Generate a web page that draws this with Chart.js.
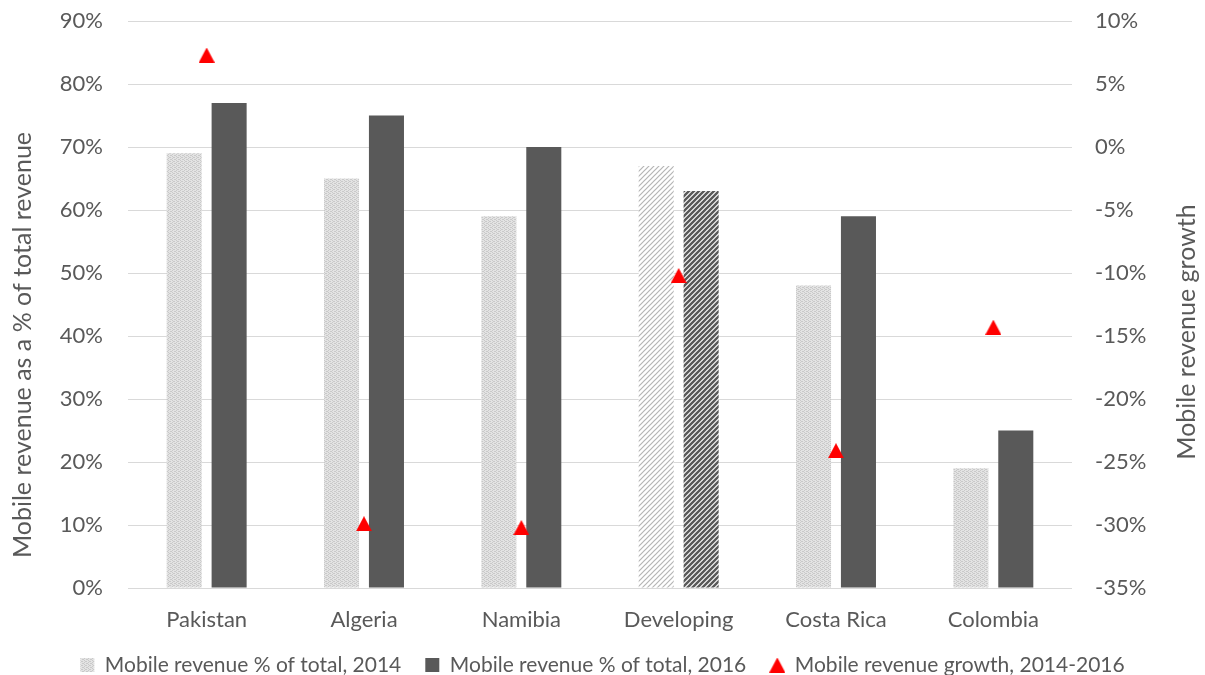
<!DOCTYPE html>
<html>
<head>
<meta charset="utf-8">
<script src="https://cdn.jsdelivr.net/npm/chart.js@4.4.1/dist/chart.umd.min.js"></script>
<style>
  html, body { margin: 0; padding: 0; background: #fff; }
  #wrap { width: 1205px; height: 675px; }
</style>
</head>
<body>
<div id="wrap"><canvas id="chart"></canvas></div>
<script>
// Data
const categories = ['Pakistan', 'Algeria', 'Namibia', 'Developing', 'Costa Rica', 'Colombia'];
const share2014 = [69, 65, 59, 67, 48, 19];
const share2016 = [77, 75, 70, 63, 59, 25];
const growth = [7.3, -29.9, -30.2, -10.2, -24.1, -14.3];
const seriesNames = [
    'Mobile revenue % of total, 2014',
    'Mobile revenue % of total, 2016',
    'Mobile revenue growth, 2014-2016',
];
const leftTitle = 'Mobile revenue as a % of total revenue';
const rightTitle = 'Mobile revenue growth';
const highlightIndex = 3; // "Developing" gets hatched bars

const TEXT = '#595959';
const GRID = '#d9d9d9';
const FONT = 'Lato, sans-serif';
const LEGEND_H = 35;
const LEGEND_SHIFT = -9.5;

function makeCanvas(w, h) {
    const c = document.createElement('canvas');
    c.width = w;
    c.height = h || w;
    return c;
}

// fine dotted fill like the light 2014 bars
function dotPattern() {
    const c = makeCanvas(4);
    const g = c.getContext('2d');
    g.fillStyle = '#e3e3e3';
    g.fillRect(0, 0, 4, 4);
    g.fillStyle = '#c9c9c9';
    [[0, 0], [2, 1], [0, 2], [2, 3], [1, 1], [3, 3]].forEach(([x, y]) => g.fillRect(x, y, 1, 1));
    return g.createPattern(c, 'repeat');
}

// diagonal hatch for the "Developing" bars
function hatchPattern(color, width, size) {
    const c = makeCanvas(size);
    const g = c.getContext('2d');
    g.fillStyle = '#ffffff';
    g.fillRect(0, 0, size, size);
    g.strokeStyle = color;
    g.lineWidth = width;
    g.beginPath();
    g.moveTo(-size, size * 2);
    g.lineTo(size * 2, -size);
    g.moveTo(-size, size);
    g.lineTo(size, -size);
    g.moveTo(0, size * 2);
    g.lineTo(size * 2, 0);
    g.stroke();
    return g.createPattern(c, 'repeat');
}

// triangle marker centred on its box (Excel style), not on its centroid
function triangleMarker(w, h, color) {
    const c = makeCanvas(w, h);
    const g = c.getContext('2d');
    g.fillStyle = color;
    g.beginPath();
    g.moveTo(w / 2, 0);
    g.lineTo(w, h);
    g.lineTo(0, h);
    g.closePath();
    g.fill();
    return c;
}

const lightDots = dotPattern();
const lightHatch = hatchPattern('#b5b5b5', 1.2, 5);
const darkHatch = hatchPattern('#595959', 2.4, 5);
const redTriangle = triangleMarker(16, 15, '#ff0000');

const colors2014 = categories.map((_, i) => i === highlightIndex ? lightHatch : lightDots);
const colors2016 = categories.map((_, i) => i === highlightIndex ? darkHatch : '#595959');

const pct = (v) => `${v}%`;

// fixed box sizes so the plot area lands where the reference has it
function fixY(width) {
    return (s) => {
        s.width = width;
        s.paddingTop = 0;
        s.paddingBottom = 0;
    };
}

// legend height is not configurable, so pin it after its own fit,
// then move its box up a little (it clips to its own box when drawn)
const legendPlacement = {
    id: 'legendPlacement',
    afterInit(chart) {
        const lg = chart.legend;
        if (!lg) return;
        const fit = lg.fit.bind(lg);
        lg.fit = function () {
            fit();
            this.height = LEGEND_H;
        };
    },
    afterLayout(chart) {
        const lg = chart.legend;
        if (!lg) return;
        lg.top += LEGEND_SHIFT;
        lg.height -= LEGEND_SHIFT;
        lg.bottom = lg.top + lg.height;
    },
};

// Excel-style axis titles: both read bottom-to-top, centred a bit below the plot middle
const axisTitles = {
    id: 'axisTitles',
    afterDraw(chart) {
        const { ctx } = chart;
        const put = (text, x, y) => {
            ctx.save();
            ctx.translate(x, y);
            ctx.rotate(-Math.PI / 2);
            ctx.font = `25px ${FONT}`;
            ctx.fillStyle = TEXT;
            ctx.textAlign = 'center';
            ctx.textBaseline = 'middle';
            ctx.fillText(text, 0, 0);
            ctx.restore();
        };
        put(leftTitle, 23, 345);
        put(rightTitle, 1187, 332);
    },
};

new Chart(document.getElementById('chart'), {
    data: {
        labels: categories,
        datasets: [
            {
                type: 'bar',
                label: seriesNames[0],
                data: share2014,
                backgroundColor: colors2014,
                borderWidth: 0,
                categoryPercentage: 0.571,
                barPercentage: 0.78,
                yAxisID: 'y',
                pointStyle: 'rect',
                order: 2,
            },
            {
                type: 'bar',
                label: seriesNames[1],
                data: share2016,
                backgroundColor: colors2016,
                borderWidth: 0,
                categoryPercentage: 0.571,
                barPercentage: 0.78,
                yAxisID: 'y',
                pointStyle: 'rect',
                order: 2,
            },
            {
                type: 'line',
                label: seriesNames[2],
                data: growth,
                showLine: false,
                yAxisID: 'y2',
                pointStyle: redTriangle,
                pointRadius: 8,
                pointBorderWidth: 0,
                backgroundColor: '#ff0000',
                borderColor: '#ff0000',
                order: 1,
            },
        ],
    },
    plugins: [legendPlacement, axisTitles],
    options: {
        responsive: true,
        maintainAspectRatio: false,
        animation: false,
        layout: { padding: { top: 21, bottom: 0, left: 0, right: 0 } },
        plugins: {
            tooltip: { enabled: false },
            legend: {
                position: 'bottom',
                labels: {
                    color: TEXT,
                    font: { family: FONT, size: 21 },
                    usePointStyle: true,
                    boxHeight: 14,
                    boxWidth: 14,
                    padding: 24,
                    sort: (a, b) => a.datasetIndex - b.datasetIndex,
                },
            },
        },
        scales: {
            x: {
                grid: { display: false, drawTicks: false },
                border: { display: false },
                ticks: {
                    color: TEXT,
                    font: { family: FONT, size: 22 },
                    padding: 19,
                },
                afterFit: (s) => {
                    s.height = 52;
                    s.paddingLeft = 0;
                    s.paddingRight = 0;
                },
            },
            y: {
                position: 'left',
                min: 0,
                max: 90,
                grid: { color: GRID, lineWidth: 1, drawTicks: false },
                border: { display: false },
                ticks: {
                    stepSize: 10,
                    color: TEXT,
                    font: { family: FONT, size: 22 },
                    padding: 25,
                    callback: pct,
                },
                afterFit: fixY(128),
            },
            y2: {
                position: 'right',
                min: -35,
                max: 10,
                grid: { display: false, drawTicks: false },
                border: { display: false },
                ticks: {
                    stepSize: 5,
                    color: TEXT,
                    font: { family: FONT, size: 22 },
                    padding: 23,
                    crossAlign: 'near',
                    callback: pct,
                },
                afterFit: fixY(133),
            },
        },
    },
});
</script>
</body>
</html>
